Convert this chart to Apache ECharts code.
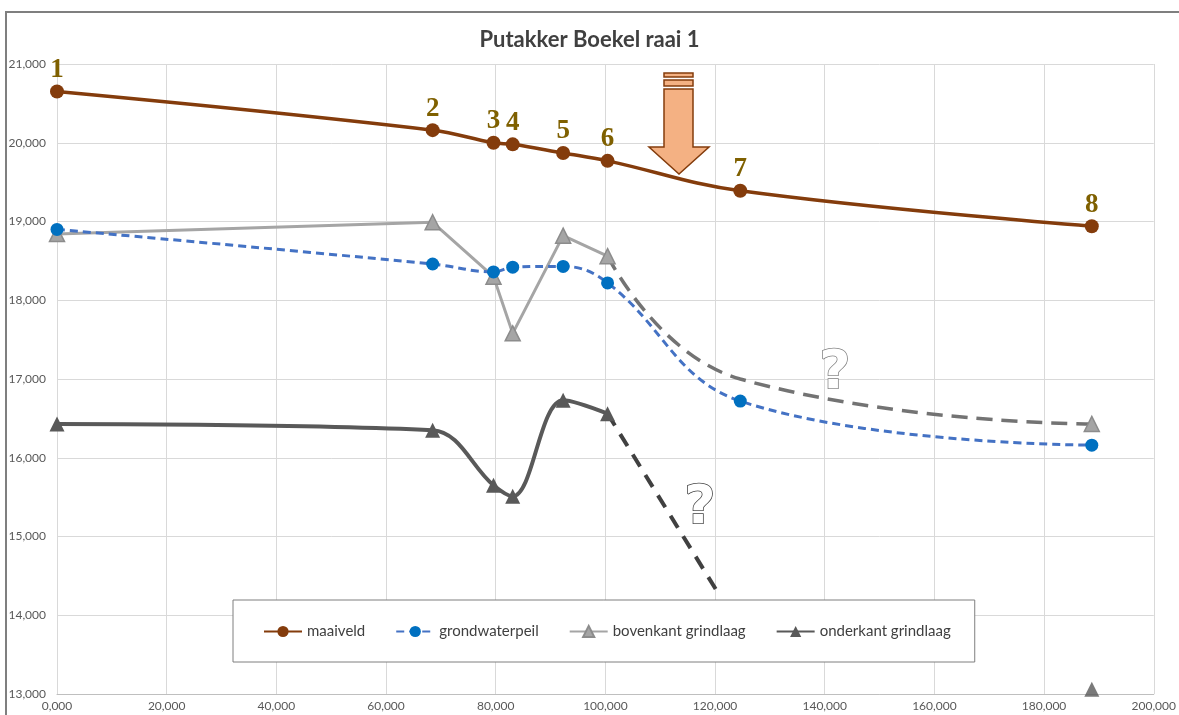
<!DOCTYPE html>
<head>
<meta charset="utf-8">
<title>Putakker Boekel raai 1</title>
<style>
    html, body { margin:0; padding:0; background:#fff; }
    #main { width:1179px; height:715px; }
</style>
</head>
<body>
<div id="main"></div>
<script src="https://cdn.jsdelivr.net/npm/echarts@6/dist/echarts.min.js"></script>
<script type="text/javascript">
    // afstand langs de raai (m) en hoogtes (m NAP)
    var afstand = [0, 68.5, 79.6, 83.1, 92.3, 100.4, 124.6, 188.7];
    var puntNummers = ['1', '2', '3', '4', '5', '6', '7', '8'];
    var maaiveld = [20.65, 20.16, 20.00, 19.98, 19.87, 19.77, 19.39, 18.94];
    var grondwaterpeil = [18.90, 18.46, 18.36, 18.42, 18.43, 18.22, 16.72, 16.16];

    var grindX = [0, 68.5, 79.6, 83.1, 92.3, 100.4];
    var bovenkant = [18.84, 18.99, 18.30, 17.58, 18.82, 18.56];
    var onderkant = [16.43, 16.35, 15.65, 15.51, 16.73, 16.56];

    // vermoed verloop (gestippeld)
    var bovenkantVermoedX = [100.4, 124.6, 188.7];
    var bovenkantVermoed = [18.56, 17.00, 16.43];
    var onderkantVermoedX = [100.4, 120.4];
    var onderkantVermoed = [16.56, 14.30];
    var onderkantEindX = [188.7];
    var onderkantEind = [13.06];

    var xTicks = {min: 0, max: 200, interval: 20};
    var yTicks = {min: 13, max: 21, interval: 1};

    function pairs(xs, ys) {
        var out = [];
        for (var i = 0; i < xs.length; i++) out.push([xs[i], ys[i]]);
        return out;
    }
    function nl(v) { return v.toFixed(3).replace('.', ','); }

    var font = 'Lato';
    var chart = echarts.init(document.getElementById('main'));

    var bovenVermoedData = pairs(bovenkantVermoedX, bovenkantVermoed).map(function (p, i, arr) {
        return i === arr.length - 1 ? {value: p, symbol: 'triangle', symbolSize: 15,
            itemStyle: {color: '#A5A5A5', borderColor: '#8C8C8C', borderWidth: 1.5}} : {value: p, symbol: 'none'};
    });

    var option = {
        backgroundColor: '#fff',
        animation: false,
        textStyle: {fontFamily: font},
        title: {
            text: 'Putakker Boekel raai 1',
            left: 'center',
            top: 24,
            textStyle: {fontFamily: font, fontSize: 22, fontWeight: 'bold', color: '#404040'}
        },
        grid: {left: 57, right: 24, top: 64, bottom: 21, containLabel: false},
        legend: {
            data: ['maaiveld', 'grondwaterpeil', 'bovenkant grindlaag', 'onderkant grindlaag'],
            left: 233,
            top: 600,
            padding: [24, 24, 23, 30],
            itemGap: 30,
            itemWidth: 38,
            itemHeight: 14,
            backgroundColor: '#fff',
            borderColor: '#7F7F7F',
            borderWidth: 1,
            textStyle: {fontFamily: font, fontSize: 15, color: '#404040'}
        },
        xAxis: {
            type: 'value',
            min: xTicks.min, max: xTicks.max, interval: xTicks.interval,
            axisLine: {show: true, lineStyle: {color: '#BFBFBF'}},
            axisTick: {show: false},
            splitLine: {show: true, lineStyle: {color: '#D9D9D9'}},
            axisLabel: {formatter: nl, color: '#595959', fontSize: 12, fontFamily: font, margin: 6}
        },
        yAxis: {
            type: 'value',
            min: yTicks.min, max: yTicks.max, interval: yTicks.interval,
            axisLine: {show: false},
            axisTick: {show: false},
            splitLine: {show: true, lineStyle: {color: '#D9D9D9'}},
            axisLabel: {formatter: nl, color: '#595959', fontSize: 12, fontFamily: font, margin: 11}
        },
        series: [
            {
                name: 'maaiveld',
                type: 'line',
                smooth: 0.4,
                z: 5,
                data: pairs(afstand, maaiveld),
                symbol: 'circle',
                symbolSize: 14,
                lineStyle: {color: '#843C0C', width: 3.5},
                itemStyle: {color: '#843C0C'},
                label: {
                    show: true,
                    position: 'top',
                    distance: 1,
                    formatter: function (p) { return puntNummers[p.dataIndex]; },
                    fontFamily: 'Liberation Serif',
                    fontWeight: 'bold',
                    fontSize: 27,
                    color: '#7F6000'
                }
            },
            {
                name: 'grondwaterpeil',
                type: 'line',
                smooth: 0.4,
                z: 4,
                data: pairs(afstand, grondwaterpeil),
                symbol: 'circle',
                symbolSize: 13,
                lineStyle: {color: '#4472C4', width: 3, type: [8, 5]},
                itemStyle: {color: '#0070C0'}
            },
            {
                name: 'bovenkant grindlaag',
                type: 'line',
                z: 3,
                data: pairs(grindX, bovenkant),
                symbol: 'triangle',
                symbolSize: 15,
                lineStyle: {color: '#A5A5A5', width: 3},
                itemStyle: {color: '#A5A5A5', borderColor: '#8C8C8C', borderWidth: 1.5}
            },
            {
                name: 'bovenkant vermoed',
                type: 'line',
                smooth: 0.5,
                z: 2,
                data: bovenVermoedData,
                lineStyle: {color: '#737373', width: 3.5, type: [16, 9]},
                itemStyle: {color: '#A5A5A5'}
            },
            {
                name: 'onderkant grindlaag',
                type: 'line',
                smooth: 0.35,
                z: 3,
                data: pairs(grindX, onderkant),
                symbol: 'triangle',
                symbolSize: 15,
                lineStyle: {color: '#595959', width: 4},
                itemStyle: {color: '#595959'}
            },
            {
                name: 'onderkant vermoed',
                type: 'line',
                z: 2,
                data: pairs(onderkantVermoedX, onderkantVermoed),
                symbol: 'none',
                lineStyle: {color: '#404040', width: 4, type: [14, 10]}
            },
            {
                name: 'onderkant eind',
                type: 'scatter',
                z: 3,
                data: pairs(onderkantEindX, onderkantEind),
                symbol: 'triangle',
                symbolSize: 15,
                itemStyle: {color: '#595959'}
            }
        ],
        graphic: [
            {
                type: 'rect', z: 0, silent: true,
                shape: {x: 6, y: 12, width: 1180, height: 710},
                style: {fill: 'none', stroke: '#7F7F7F', lineWidth: 2}
            },
            {
                type: 'polygon', z: 20,
                shape: {points: [[664, 89], [693, 89], [693, 147], [709, 147], [679, 174], [649, 147], [664, 147]]},
                style: {fill: '#F4B183', stroke: '#843C0C', lineWidth: 1.5}
            },
            {
                type: 'rect', z: 20,
                shape: {x: 664, y: 73, width: 29, height: 4},
                style: {fill: '#F4B183', stroke: '#843C0C', lineWidth: 1.5}
            },
            {
                type: 'rect', z: 20,
                shape: {x: 664, y: 80, width: 29, height: 6},
                style: {fill: '#F4B183', stroke: '#843C0C', lineWidth: 1.5}
            },
            {
                type: 'text', z: 20,
                style: {text: '?', x: 835, y: 374, align: 'center', verticalAlign: 'middle',
                    font: 'bold 54px "DejaVu Sans"', fill: '#fff', stroke: '#7F7F7F', lineWidth: 1.5}
            },
            {
                type: 'text', z: 20,
                style: {text: '?', x: 700, y: 509, align: 'center', verticalAlign: 'middle',
                    font: 'bold 54px "DejaVu Sans"', fill: '#fff', stroke: '#404040', lineWidth: 1.5}
            }
        ]
    };
    chart.setOption(option, true);
</script>
</body>
</html>
